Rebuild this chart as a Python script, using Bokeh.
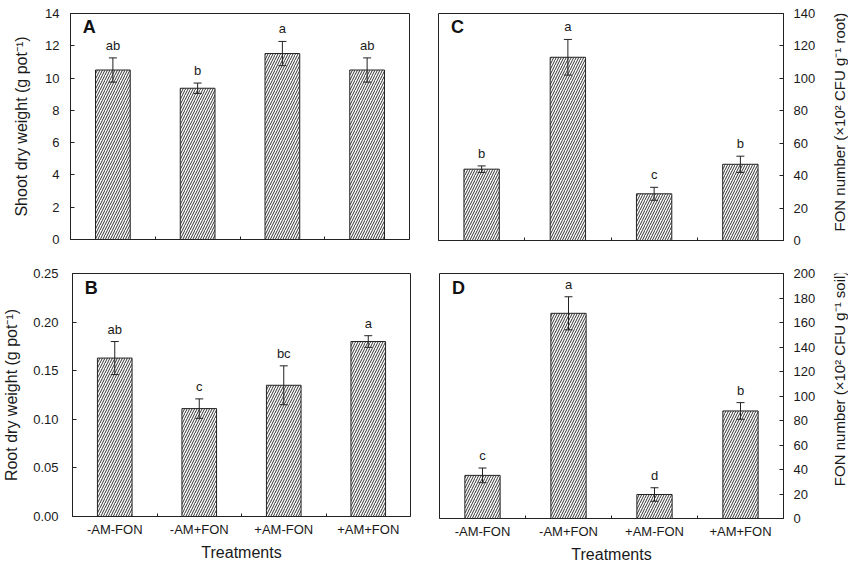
import math
from bokeh.plotting import figure
from bokeh.models import (ColumnDataSource, Range1d, FixedTicker, Whisker, TeeHead,
                          Label, PrintfTickFormatter)
from bokeh.core.properties import value
from bokeh.layouts import column, row
from bokeh.embed import file_html
from bokeh.resources import INLINE

treatments = ["-AM-FON", "-AM+FON", "+AM-FON", "+AM+FON"]

shoot_mean = [10.5, 9.37, 11.52, 10.5]
shoot_err = [0.75, 0.32, 0.75, 0.75]
shoot_letters = ["ab", "b", "a", "ab"]

root_mean = [0.163, 0.111, 0.135, 0.180]
root_err = [0.017, 0.010, 0.020, 0.006]
root_letters = ["ab", "c", "bc", "a"]

fon_root_mean = [44.0, 113.0, 28.8, 47.0]
fon_root_err = [2.0, 11.0, 4.0, 5.0]
fon_root_letters = ["b", "a", "c", "b"]

fon_soil_mean = [35.2, 167.5, 19.6, 87.8]
fon_soil_err = [6.0, 13.5, 5.5, 6.8]
fon_soil_letters = ["c", "a", "d", "b"]

FONT = "Liberation Sans"
DARK = "#222222"
TXT = "#1a1a1a"


def panel(mean, err, letters, tag, ymax, ystep, ylabel, side, bottom_row,
          width, height, bl, br, bt, fw, fh, fmt=None, tick_standoff=11,
          label_standoff=10):
    n = len(treatments)
    xs = [i + 0.5 for i in range(n)]
    src = ColumnDataSource(dict(
        x=xs, top=mean, upper=[m + e for m, e in zip(mean, err)],
        lower=[m - e for m, e in zip(mean, err)], letters=letters))
    p = figure(width=width, height=height, output_backend="svg",
               toolbar_location=None, x_range=Range1d(0, n),
               y_range=Range1d(0, ymax), y_axis_location=side,
               min_border_left=bl, min_border_right=br, min_border_top=bt,
               min_border_bottom=height - bt - fh, frame_width=fw,
               frame_height=fh, background_fill_color="white",
               border_fill_color="white")
    p.xgrid.visible = False
    p.ygrid.visible = False
    p.outline_line_color = DARK
    p.outline_line_width = 1
    p.vbar(x="x", top="top", width=0.41, bottom=0, source=src,
           fill_color="white", line_color=DARK, line_width=1,
           hatch_pattern="/", hatch_scale=5, hatch_weight=1.0,
           hatch_color="#333333")
    w = Whisker(base="x", upper="upper", lower="lower", source=src,
                line_color=DARK, line_width=1, level="overlay",
                upper_head=TeeHead(size=8, line_color=DARK, line_width=1),
                lower_head=TeeHead(size=8, line_color=DARK, line_width=1))
    p.add_layout(w)
    p.text(x="x", y="upper", text="letters", source=src, text_align="center",
           text_baseline="bottom", y_offset=-5, text_font_size="13px",
           text_color=TXT, text_font=value(FONT))
    ticks = [i * ystep for i in range(int(round(ymax / ystep)) + 1)]
    yax = p.yaxis[0]
    yax.ticker = FixedTicker(ticks=ticks)
    if fmt:
        yax.formatter = PrintfTickFormatter(format=fmt)
    yax.major_tick_in = 4
    yax.major_tick_out = 0
    yax.minor_tick_line_color = None
    yax.axis_line_color = DARK
    yax.major_tick_line_color = DARK
    yax.major_label_text_font = FONT
    yax.major_label_text_font_size = "13px"
    yax.major_label_text_color = TXT
    yax.major_label_standoff = tick_standoff
    if side == "left":
        yax.axis_label = ylabel
        yax.axis_label_text_font = FONT
        yax.axis_label_text_font_size = "16px"
        yax.axis_label_text_font_style = "normal"
        yax.axis_label_text_color = TXT
        yax.axis_label_standoff = label_standoff
    xax = p.xaxis[0]
    xax.axis_line_color = DARK
    xax.major_tick_in = 0
    xax.major_tick_out = 0
    xax.minor_tick_in = 3
    xax.minor_tick_out = 0
    xax.minor_tick_line_color = DARK
    if bottom_row:
        xax.ticker = FixedTicker(ticks=xs, minor_ticks=[1, 2, 3])
        xax.major_label_overrides = {x: t for x, t in zip(xs, treatments)}
        xax.major_label_text_font = FONT
        xax.major_label_text_font_size = "13px"
        xax.major_label_text_color = TXT
        xax.major_label_standoff = 5
        xax.axis_label = "Treatments"
        xax.axis_label_text_font = FONT
        xax.axis_label_text_font_size = "16px"
        xax.axis_label_text_font_style = "normal"
        xax.axis_label_text_color = TXT
        xax.axis_label_standoff = 4
    else:
        xax.ticker = FixedTicker(ticks=[], minor_ticks=[1, 2, 3])
        xax.major_label_standoff = 0
    p.add_layout(Label(x=n * 0.036, y=ymax * 0.94, text=tag,
                       text_font=FONT, text_font_size="18px",
                       text_font_style="bold", text_baseline="middle",
                       text_align="left", text_color="#111111"))
    return p


def side_label(text, width, height, center_from_top, size):
    # narrow strip holding a vertical (bottom-to-top) axis title
    q = figure(width=width, height=height, output_backend="svg",
               toolbar_location=None, x_range=Range1d(0, width),
               y_range=Range1d(0, height), min_border=0,
               background_fill_color="white", border_fill_color="white")
    q.axis.visible = False
    q.grid.visible = False
    q.outline_line_color = None
    q.text(x=[width / 2], y=[height - center_from_top], text=[text],
           angle=math.pi / 2, text_align="center", text_baseline="middle",
           text_font=value(FONT), text_font_size=size, text_color=TXT)
    return q


pA = panel(shoot_mean, shoot_err, shoot_letters, "A", 14, 2,
           "Shoot dry weight (g pot\u207b\u00b9)", "left", False,
           420, 258, 70, 11, 13, 339, 226, tick_standoff=11, label_standoff=12)
pC = panel(fon_root_mean, fon_root_err, fon_root_letters, "C", 140, 20,
           "", "right", False,
           409, 258, 18, 46, 12, 345, 227, tick_standoff=10)
lC = side_label("FON number (\u00d710\u00b2 CFU g\u207b\u00b9 root)", 19, 258, 124, "15px")
pB = panel(root_mean, root_err, root_letters, "B", 0.25, 0.05,
           "Root dry weight (g pot\u207b\u00b9)", "left", True,
           420, 302, 71, 10, 15, 338, 243, fmt="%.2f", tick_standoff=14,
           label_standoff=10)
pD = panel(fon_soil_mean, fon_soil_err, fon_soil_letters, "D", 200, 20,
           "", "right", True,
           409, 302, 19, 46, 12, 344, 245, tick_standoff=10)
lD = side_label("FON number (\u00d710\u00b2 CFU g\u207b\u00b9 soil)", 19, 302, 132, "15px")

layout = column(row(pA, pC, lC), row(pB, pD, lD))
open("out.html", "w").write(file_html(layout, INLINE))
